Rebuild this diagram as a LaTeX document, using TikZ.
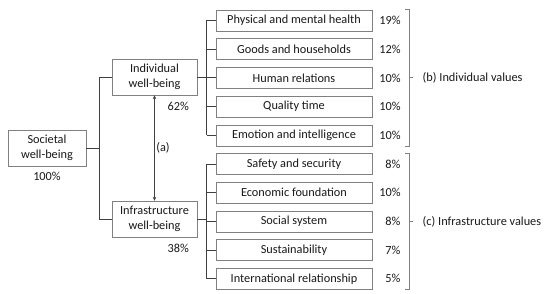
\documentclass[tikz,border=0pt]{standalone}
\usepackage{fontspec}
\setmainfont{Carlito}
\usepackage{tikz}
\usetikzlibrary{arrows.meta,positioning,calc}
\definecolor{boxgray}{HTML}{808080}
\definecolor{linegray}{HTML}{404040}

\begin{document}
\begin{tikzpicture}[
  x=1pt,y=-1pt,
  node distance=7.3pt,
  every node/.style={font=\fontsize{12.3}{14.5}\selectfont,align=center,text=black!90},
  main/.style={draw=boxgray,fill=white,minimum width=85pt,minimum height=36pt,inner sep=1pt},
  value/.style={draw=boxgray,fill=white,minimum width=156pt,minimum height=21pt,inner sep=1pt},
  pct/.style={text width=21pt,align=right,inner sep=0pt},
  conn/.style={draw=linegray,line width=0.8pt},
  brk/.style={draw=boxgray,line width=0.8pt},
  arr/.style={{Stealth[length=4pt,width=3.5pt]}-{Stealth[length=4pt,width=3.5pt]},draw=linegray,line width=0.7pt}
]
\useasboundingbox (0,0) rectangle (550,294);
% main boxes
\node[main,minimum width=78pt] (soc) at (47,148) {Societal\\well-being};
\node[main] (ind) at (154.5,77) {Individual\\well-being};
\node[main] (inf) at (154.5,219) {Infrastructure\\well-being};
\node[below=2pt of soc] (socp) {100\%};
\node[below=3pt of ind.south east,xshift=-19pt] (indp) {62\%};
\node[below=3pt of inf.south east,xshift=-19pt] (infp) {38\%};
% value boxes
\node[value] (phys) at (294,20.5) {Physical and mental health};
\node[value,below=of phys] (goods) {Goods and households};
\node[value,below=of goods] (human) {Human relations};
\node[value,below=of human] (qual) {Quality time};
\node[value,below=of qual] (emo) {Emotion and intelligence};
\node[value,below=of emo] (safe) {Safety and security};
\node[value,below=of safe] (econ) {Economic foundation};
\node[value,below=of econ] (social) {Social system};
\node[value,below=of social] (sust) {Sustainability};
\node[value,below=of sust] (inter) {International relationship};
% shares
\node[pct,right=7pt of phys] (physp) {19\%};
\node[pct,right=7pt of goods] (goodsp) {12\%};
\node[pct,right=7pt of human] (humanp) {10\%};
\node[pct,right=7pt of qual] (qualp) {10\%};
\node[pct,right=7pt of emo] (emop) {10\%};
\node[pct,right=7pt of safe] (safep) {8\%};
\node[pct,right=7pt of econ] (econp) {10\%};
\node[pct,right=7pt of social] (socialp) {8\%};
\node[pct,right=7pt of sust] (sustp) {7\%};
\node[pct,right=7pt of inter] (interp) {5\%};
% tree connectors
\coordinate (socj) at ($(soc.east)!0.5!(ind.west)$);
\coordinate (indj) at ($(ind.east)!0.5!(phys.west)$);
\coordinate (infj) at ($(inf.east)!0.5!(safe.west)$);
\draw[conn] (soc.east) -- (socj |- soc.east);
\draw[conn] (socj |- ind.west) -- (socj |- inf.west);
\draw[conn] (socj |- ind.west) -- (ind.west);
\draw[conn] (socj |- inf.west) -- (inf.west);
\draw[conn] (ind.east) -- (indj |- ind.east);
\draw[conn] (indj |- phys.west) -- (indj |- emo.west);
\draw[conn] (indj |- phys.west) -- (phys.west);
\draw[conn] (indj |- goods.west) -- (goods.west);
\draw[conn] (indj |- human.west) -- (human.west);
\draw[conn] (indj |- qual.west) -- (qual.west);
\draw[conn] (indj |- emo.west) -- (emo.west);
\draw[conn] (inf.east) -- (infj |- inf.east);
\draw[conn] (infj |- safe.west) -- (infj |- inter.west);
\draw[conn] (infj |- safe.west) -- (safe.west);
\draw[conn] (infj |- econ.west) -- (econ.west);
\draw[conn] (infj |- social.west) -- (social.west);
\draw[conn] (infj |- sust.west) -- (sust.west);
\draw[conn] (infj |- inter.west) -- (inter.west);
% interaction
\draw[arr] (ind.south) -- node[right=0pt,inner sep=1.5pt] (inta) {(a)} (inf.north);
% brackets
\coordinate (indmid) at ($([xshift=37pt]phys.north east)!0.5!([xshift=37pt]emo.south east)$);
\coordinate (infmid) at ($([xshift=37pt]safe.north east)!0.5!([xshift=37pt]inter.south east)$);
\draw[brk] ([xshift=33pt]phys.north east) -- ([xshift=37pt]phys.north east) -- ([xshift=37pt]emo.south east) -- ([xshift=33pt]emo.south east);
\draw[brk] ([xshift=33pt]safe.north east) -- ([xshift=37pt]safe.north east) -- ([xshift=37pt]inter.south east) -- ([xshift=33pt]inter.south east);
\draw[brk] (indmid) -- ([xshift=4pt]indmid);
\draw[brk] (infmid) -- ([xshift=4pt]infmid);
\node[anchor=west,right=10pt of indmid] (indlab) {(b) Individual values};
\node[anchor=west,right=10pt of infmid] (inflab) {(c) Infrastructure values};
\end{tikzpicture}
\end{document}
